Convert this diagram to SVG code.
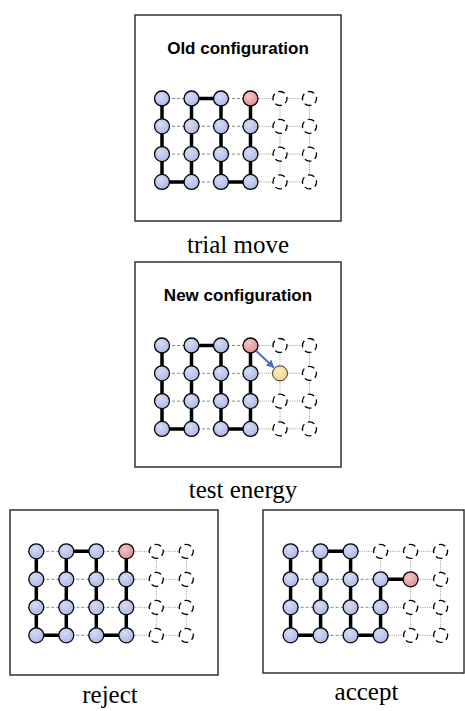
<svg xmlns="http://www.w3.org/2000/svg" width="465" height="711" viewBox="0 0 465 711">
<defs>
<radialGradient id="gb" cx="40%" cy="35%" r="70%"><stop offset="0" stop-color="#d6dcf6"/><stop offset="1" stop-color="#a9b5e6"/></radialGradient>
<radialGradient id="gr" cx="40%" cy="35%" r="70%"><stop offset="0" stop-color="#f4c4c4"/><stop offset="1" stop-color="#de8e8e"/></radialGradient>
<radialGradient id="gy" cx="40%" cy="35%" r="70%"><stop offset="0" stop-color="#fcecc0"/><stop offset="1" stop-color="#f4d38a"/></radialGradient>
<marker id="ah" viewBox="0 0 10 10" refX="9" refY="5" markerWidth="4" markerHeight="4" orient="auto"><path d="M0,0 L10,5 L0,10 z" fill="#4a6cc8"/></marker>
</defs>
<style>
.box{fill:#fff;stroke:#333;stroke-width:1.5}
.ttl{font-family:"Liberation Sans",Arial,sans-serif;font-weight:bold;font-size:17px;text-anchor:middle;fill:#000}
.lbl{font-family:"Liberation Serif","Times New Roman",serif;font-size:25px;text-anchor:middle;fill:#000}
.ds{stroke:#888;stroke-width:1;stroke-dasharray:3 2;fill:none}
.dt{stroke:#999;stroke-width:1;stroke-dasharray:1 1.2;fill:none}
.bd{stroke:#000;stroke-width:3.5;fill:none;stroke-linejoin:round}
.n{fill:url(#gb);stroke:#000;stroke-width:1.3}
.r{fill:url(#gr);stroke:#000;stroke-width:1.3}
.y{fill:url(#gy);stroke:#333;stroke-width:1}
.e{fill:#fff;stroke:#000;stroke-width:1.3;stroke-dasharray:7 4;stroke-dashoffset:2}
</style>

<g id="box-old">
<rect class="box" x="135" y="15" width="206" height="206"/>
<text class="ttl" x="238" y="54">Old configuration</text>
<g transform="translate(162,98.5)">
<path class="ds" d="M0,0H88.5M0,27.8H88.5M0,55.6H88.5M0,83.4H88.5"/>
<path class="dt" d="M88.5,0H147.5M88.5,27.8H147.5M88.5,55.6H147.5M88.5,83.4H147.5M118,0V83.4M147.5,0V83.4"/>
<path class="bd" d="M0,0V83.4H29.5V0H59V83.4H88.5V0"/>
<circle class="n" cx="0" cy="0" r="7.5"/><circle class="n" cx="0" cy="27.8" r="7.5"/><circle class="n" cx="0" cy="55.6" r="7.5"/><circle class="n" cx="0" cy="83.4" r="7.5"/>
<circle class="n" cx="29.5" cy="0" r="7.5"/><circle class="n" cx="29.5" cy="27.8" r="7.5"/><circle class="n" cx="29.5" cy="55.6" r="7.5"/><circle class="n" cx="29.5" cy="83.4" r="7.5"/>
<circle class="n" cx="59" cy="0" r="7.5"/><circle class="n" cx="59" cy="27.8" r="7.5"/><circle class="n" cx="59" cy="55.6" r="7.5"/><circle class="n" cx="59" cy="83.4" r="7.5"/>
<circle class="r" cx="88.5" cy="0" r="7.5"/><circle class="n" cx="88.5" cy="27.8" r="7.5"/><circle class="n" cx="88.5" cy="55.6" r="7.5"/><circle class="n" cx="88.5" cy="83.4" r="7.5"/>
<circle class="e" cx="118" cy="0" r="7"/><circle class="e" cx="118" cy="27.8" r="7"/><circle class="e" cx="118" cy="55.6" r="7"/><circle class="e" cx="118" cy="83.4" r="7"/>
<circle class="e" cx="147.5" cy="0" r="7"/><circle class="e" cx="147.5" cy="27.8" r="7"/><circle class="e" cx="147.5" cy="55.6" r="7"/><circle class="e" cx="147.5" cy="83.4" r="7"/>
</g>
</g>

<g id="box-new">
<rect class="box" x="135" y="262" width="206" height="205"/>
<text class="ttl" x="238" y="301">New configuration</text>
<g transform="translate(162,345.5)">
<path class="ds" d="M0,0H88.5M0,27.8H88.5M0,55.6H88.5M0,83.4H88.5"/>
<path class="dt" d="M88.5,0H147.5M88.5,27.8H147.5M88.5,55.6H147.5M88.5,83.4H147.5M118,0V83.4M147.5,0V83.4"/>
<path class="bd" d="M0,0V83.4H29.5V0H59V83.4H88.5V0"/>
<circle class="n" cx="0" cy="0" r="7.5"/><circle class="n" cx="0" cy="27.8" r="7.5"/><circle class="n" cx="0" cy="55.6" r="7.5"/><circle class="n" cx="0" cy="83.4" r="7.5"/>
<circle class="n" cx="29.5" cy="0" r="7.5"/><circle class="n" cx="29.5" cy="27.8" r="7.5"/><circle class="n" cx="29.5" cy="55.6" r="7.5"/><circle class="n" cx="29.5" cy="83.4" r="7.5"/>
<circle class="n" cx="59" cy="0" r="7.5"/><circle class="n" cx="59" cy="27.8" r="7.5"/><circle class="n" cx="59" cy="55.6" r="7.5"/><circle class="n" cx="59" cy="83.4" r="7.5"/>
<circle class="r" cx="88.5" cy="0" r="7.5"/><circle class="n" cx="88.5" cy="27.8" r="7.5"/><circle class="n" cx="88.5" cy="55.6" r="7.5"/><circle class="n" cx="88.5" cy="83.4" r="7.5"/>
<circle class="e" cx="118" cy="0" r="7"/><circle class="y" cx="118" cy="27.8" r="7.5"/><circle class="e" cx="118" cy="55.6" r="7"/><circle class="e" cx="118" cy="83.4" r="7"/>
<circle class="e" cx="147.5" cy="0" r="7"/><circle class="e" cx="147.5" cy="27.8" r="7"/><circle class="e" cx="147.5" cy="55.6" r="7"/><circle class="e" cx="147.5" cy="83.4" r="7"/>
<line x1="94" y1="5.2" x2="111.8" y2="22" stroke="#4a6cc8" stroke-width="2" marker-end="url(#ah)"/>
</g>
</g>

<g id="box-reject">
<rect class="box" x="10" y="510" width="208" height="165"/>
<g transform="translate(36.3,551.3)">
<path class="ds" d="M0,0H90M0,28H90M0,56H90M0,84H90"/>
<path class="dt" d="M90,0H150M90,28H150M90,56H150M90,84H150M120,0V84M150,0V84"/>
<path class="bd" d="M0,0V84H30V0H60V84H90V0"/>
<circle class="n" cx="0" cy="0" r="7.5"/><circle class="n" cx="0" cy="28" r="7.5"/><circle class="n" cx="0" cy="56" r="7.5"/><circle class="n" cx="0" cy="84" r="7.5"/>
<circle class="n" cx="30" cy="0" r="7.5"/><circle class="n" cx="30" cy="28" r="7.5"/><circle class="n" cx="30" cy="56" r="7.5"/><circle class="n" cx="30" cy="84" r="7.5"/>
<circle class="n" cx="60" cy="0" r="7.5"/><circle class="n" cx="60" cy="28" r="7.5"/><circle class="n" cx="60" cy="56" r="7.5"/><circle class="n" cx="60" cy="84" r="7.5"/>
<circle class="r" cx="90" cy="0" r="7.5"/><circle class="n" cx="90" cy="28" r="7.5"/><circle class="n" cx="90" cy="56" r="7.5"/><circle class="n" cx="90" cy="84" r="7.5"/>
<circle class="e" cx="120" cy="0" r="7"/><circle class="e" cx="120" cy="28" r="7"/><circle class="e" cx="120" cy="56" r="7"/><circle class="e" cx="120" cy="84" r="7"/>
<circle class="e" cx="150" cy="0" r="7"/><circle class="e" cx="150" cy="28" r="7"/><circle class="e" cx="150" cy="56" r="7"/><circle class="e" cx="150" cy="84" r="7"/>
</g>
</g>

<g id="box-accept">
<rect class="box" x="263" y="510" width="201" height="163"/>
<g transform="translate(290.6,551.3)">
<path class="ds" d="M0,0H60M0,28H90M0,56H90M0,84H90"/>
<path class="dt" d="M60,0H150M90,28H150M90,56H150M90,84H150M90,0V28M120,0V84M150,0V84"/>
<path class="bd" d="M0,0V84H30V0H60V84H90V28H120"/>
<circle class="n" cx="0" cy="0" r="7.5"/><circle class="n" cx="0" cy="28" r="7.5"/><circle class="n" cx="0" cy="56" r="7.5"/><circle class="n" cx="0" cy="84" r="7.5"/>
<circle class="n" cx="30" cy="0" r="7.5"/><circle class="n" cx="30" cy="28" r="7.5"/><circle class="n" cx="30" cy="56" r="7.5"/><circle class="n" cx="30" cy="84" r="7.5"/>
<circle class="n" cx="60" cy="0" r="7.5"/><circle class="n" cx="60" cy="28" r="7.5"/><circle class="n" cx="60" cy="56" r="7.5"/><circle class="n" cx="60" cy="84" r="7.5"/>
<circle class="e" cx="90" cy="0" r="7"/><circle class="n" cx="90" cy="28" r="7.5"/><circle class="n" cx="90" cy="56" r="7.5"/><circle class="n" cx="90" cy="84" r="7.5"/>
<circle class="e" cx="120" cy="0" r="7"/><circle class="r" cx="120" cy="28" r="7.5"/><circle class="e" cx="120" cy="56" r="7"/><circle class="e" cx="120" cy="84" r="7"/>
<circle class="e" cx="150" cy="0" r="7"/><circle class="e" cx="150" cy="28" r="7"/><circle class="e" cx="150" cy="56" r="7"/><circle class="e" cx="150" cy="84" r="7"/>
</g>
</g>

<g id="labels">
<text class="lbl" x="238" y="253">trial move</text>
<text class="lbl" x="243" y="498">test energy</text>
<text class="lbl" x="110" y="703">reject</text>
<text class="lbl" x="366.5" y="700">accept</text>
</g>
</svg>
